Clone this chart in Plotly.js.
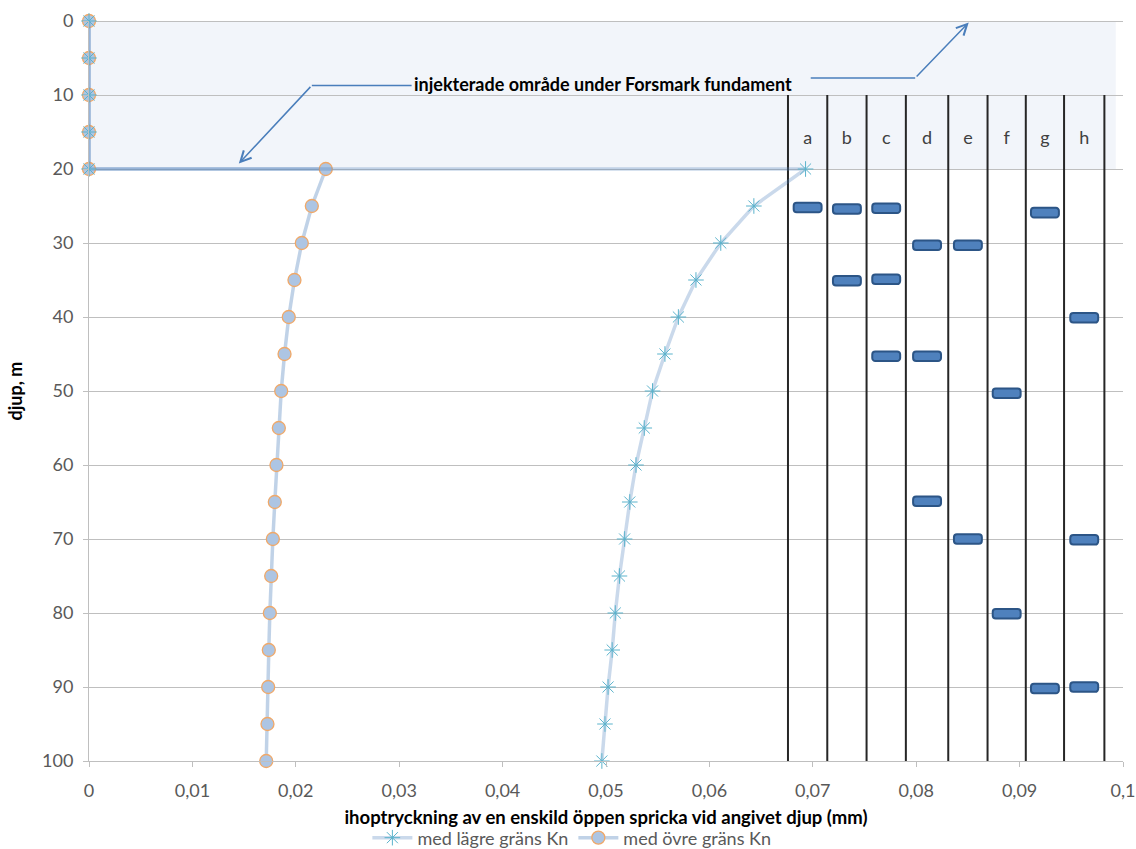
<!DOCTYPE html>
<html><head><meta charset="utf-8">
<script src="https://cdn.plot.ly/plotly-3.0.1.min.js"></script>
<style>html,body{margin:0;padding:0;background:#fff}</style>
</head><body><div id="chart" style="width:1136px;height:849px"></div>
<script>
// depth (m) for both series
const depths = [0,5,10,15,20,20,25,30,35,40,45,50,55,60,65,70,75,80,85,90,95,100];
// compression (mm) with lower bound Kn (stars)
const lowerKn = [0,0,0,0,0,0.0693,0.0643,0.0611,0.0587,0.0570,0.0557,0.0545,0.0537,0.0529,0.0523,0.0518,0.0513,0.0509,0.0506,0.0502,0.0499,0.0496];
// compression (mm) with upper bound Kn (circles)
const upperKn = [0,0,0,0,0,0.0229,0.02155,0.02058,0.01987,0.01932,0.01891,0.01859,0.01836,0.01813,0.01797,0.01778,0.01762,0.01749,0.01739,0.01733,0.01726,0.01714];

// borehole columns a-h: boundaries along x
const colNames = ['a','b','c','d','e','f','g','h'];
const colBounds = [0.0676,0.0714,0.0752,0.0790,0.0831,0.0869,0.0906,0.0943,0.0982];
const colTop = 10, colBottom = 100, colLabelDepth = 16;

// fractures observed in columns
const fracCols   = ['a','b','c','g','d','e','b','c','h','c','d','f','d','e','h','f','g','h'];
const fracDepths = [25.2,25.4,25.3,25.9,30.3,30.3,35.1,34.9,40.1,45.3,45.3,50.3,64.9,70.0,70.1,80.1,90.2,90.0];
const fracLen = 0.0027;

// grouted zone
const zoneDepths = [0,20];
const zoneRight = 0.0993;
const zoneLabel = 'injekterade område under Forsmark fundament';

// ticks
const xTickVals = [0,0.01,0.02,0.03,0.04,0.05,0.06,0.07,0.08,0.09,0.1];
const yTickVals = [0,10,20,30,40,50,60,70,80,90,100];

const FONT = 'Lato, "Open Sans", sans-serif';

const colCenters = colNames.map((n,i)=>(colBounds[i]+colBounds[i+1])/2);
const colX = [], colY = [];
colBounds.forEach(b=>{colX.push(b,b,null); colY.push(colTop,colBottom,null);});

const fracCenters = fracCols.map(c=>colCenters[colNames.indexOf(c)]);

const traces = [
  {type:'scatter', mode:'lines', x:colX, y:colY, line:{color:'#262626', width:2}, showlegend:false, hoverinfo:'skip'},
  {type:'bar', orientation:'h', y:fracDepths, x:fracCols.map(()=>fracLen), base:fracCenters.map(c=>c-fracLen/2),
   width:1.3, marker:{color:'#4f81bd', line:{color:'#2c5586', width:2}, cornerradius:3}, showlegend:false},
  {type:'scatter', mode:'text', x:colCenters, y:colNames.map(()=>colLabelDepth), text:colNames,
   textfont:{family:FONT, size:18, color:'#404040'}, showlegend:false, hoverinfo:'skip'},
  {type:'scatter', mode:'lines+markers', name:'med övre gräns Kn', x:upperKn, y:depths, cliponaxis:false,
   line:{color:'rgba(79,129,189,0.36)', width:3.5},
   marker:{symbol:'circle', size:13, color:'#adc5e3', line:{color:'#f0a868', width:1.3}}},
  {type:'scatter', mode:'lines+markers', name:'med lägre gräns Kn', x:lowerKn, y:depths, cliponaxis:false,
   line:{color:'rgba(79,129,189,0.30)', width:3.5},
   marker:{symbol:'asterisk-open', size:13, color:'#5bb3cc', line:{color:'#5bb3cc', width:1}}},
  // leader lines for the zone label
  {type:'scatter', mode:'lines', x:[0.02155,0.0312,null,0.0698,0.0799], y:[8.7,8.7,null,7.7,7.7],
   line:{color:'#4a7ebb', width:1.5}, showlegend:false, hoverinfo:'skip'}
];

const layout = {
  width:1136, height:849,
  margin:{l:89, r:13, t:21, b:88, autoexpand:false},
  paper_bgcolor:'#ffffff', plot_bgcolor:'#ffffff',
  separators:', ',
  font:{family:FONT, size:18, color:'#595959'},
  showlegend:true,
  legend:{orientation:'h', x:0.467, xanchor:'center', y:-0.104, yanchor:'middle', traceorder:'reversed',
          itemwidth:40, font:{family:FONT, size:18, color:'#595959'}},
  xaxis:{range:[0,0.1], tickvals:xTickVals, showgrid:false, zeroline:false, showline:true, linecolor:'#bfbfbf', linewidth:1,
         ticks:'outside', ticklen:5, tickcolor:'#bfbfbf', ticklabelstandoff:8, automargin:false,
         tickfont:{family:FONT, size:18, color:'#595959'},
         title:{text:'ihoptryckning av en enskild öppen spricka vid angivet djup (mm)', standoff:11,
                font:{family:FONT, size:18.5, color:'#000000', weight:'bold'}}},
  yaxis:{range:[100,0], tickvals:yTickVals, showgrid:true, gridcolor:'#bfbfbf', gridwidth:1,
         zeroline:true, zerolinecolor:'#bfbfbf', zerolinewidth:1, showline:true, linecolor:'#bfbfbf', linewidth:1,
         ticks:'outside', ticklen:5, tickcolor:'#bfbfbf', ticklabelstandoff:6, automargin:false,
         tickfont:{family:FONT, size:18, color:'#595959'},
         title:{text:'djup, m', standoff:14, font:{family:FONT, size:18, color:'#000000', weight:'bold'}}},
  shapes:[
    {type:'rect', layer:'below', xref:'x', yref:'y', x0:0, x1:zoneRight, y0:zoneDepths[0], y1:zoneDepths[1],
     fillcolor:'#f2f5fa', line:{width:0}}
  ],
  annotations:[
    {xref:'x', yref:'y', x:0.0497, y:8.5, text:'<b>'+zoneLabel+'</b>', showarrow:false,
     font:{family:FONT, size:18, color:'#000000'}},
    {xref:'x', yref:'y', axref:'x', ayref:'y', x:0.01449, y:19.27, ax:0.02155, ay:8.7, text:'',
     showarrow:true, arrowhead:5, arrowsize:1.4, arrowwidth:1.5, arrowcolor:'#4a7ebb'},
    {xref:'x', yref:'y', axref:'x', ayref:'y', x:0.08508, y:0.2, ax:0.0799, ay:7.7, text:'',
     showarrow:true, arrowhead:5, arrowsize:1.4, arrowwidth:1.5, arrowcolor:'#4a7ebb'}
  ]
};

Plotly.newPlot('chart', traces, layout, {displayModeBar:false, staticPlot:true});
</script>
</body></html>
